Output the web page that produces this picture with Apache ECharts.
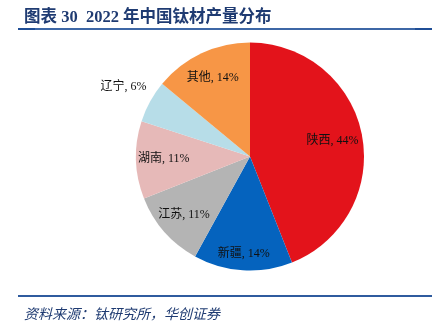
<!DOCTYPE html>
<html>
<head>
<meta charset="utf-8">
<script src="https://cdn.jsdelivr.net/npm/echarts@6/dist/echarts.min.js"></script>
<style>
html,body{margin:0;padding:0;background:#fff;}
#chart{width:444px;height:327px;}
</style>
</head>
<body>
<div id="chart"></div>
<script>
var categories = ['陕西', '新疆', '江苏', '湖南', '辽宁', '其他'];
var values = [44, 14, 11, 11, 6, 14];
var titleText = '图表 30  2022 年中国钛材产量分布';
var sourceText = '资料来源：钛研究所，华创证券';

var colors = ['#E3131B', '#0563BE', '#B4B4B4', '#E6B9B8', '#B7DDE8', '#F79646'];
var labelFactor = [0.71, 0.83, 0.745, 0.73, 1.24, 0.74];
var R = 114, CX = 250, CY = 156.5;

var total = values.reduce(function(a, b){ return a + b; }, 0);
var cum = 0;
var data = categories.map(function(name, i){
  var mid = (cum + values[i] / 2) / total * 2 * Math.PI;
  cum += values[i];
  var dx = Math.sin(mid), dy = -Math.cos(mid);
  var extra = (labelFactor[i] - 0.5) * R;
  return {
    name: name,
    value: values[i],
    itemStyle: { color: colors[i] },
    label: { offset: [dx * extra, dy * extra] }
  };
});

var chart = echarts.init(document.getElementById('chart'), null, {renderer: 'canvas'});
chart.setOption({
  backgroundColor: '#ffffff',
  animation: false,
  title: [{
    text: titleText,
    left: 19, top: 4,
    textStyle: { fontFamily: '"Liberation Serif", "Noto Sans CJK SC"', fontWeight: 'bold', fontSize: 16.5, color: '#1F3B72' }
  }, {
    text: sourceText,
    left: 19, top: 303,
    textStyle: { fontFamily: '"Liberation Serif", "Noto Sans CJK SC"', fontStyle: 'italic', fontWeight: 'normal', fontSize: 14, color: '#1F3B72' }
  }],
  graphic: [
    { type: 'rect', shape: { x: 18, y: 28, width: 414, height: 2 }, style: { fill: '#3D67A6' } },
    { type: 'rect', shape: { x: 18, y: 28, width: 17, height: 2 }, style: { fill: '#1F4E96' } },
    { type: 'rect', shape: { x: 415, y: 28, width: 17, height: 2 }, style: { fill: '#1F4E96' } },
    { type: 'rect', shape: { x: 18, y: 295, width: 414, height: 2 }, style: { fill: '#2F5B9E' } }
  ],
  series: [{
    type: 'pie',
    center: [CX, CY],
    radius: [0, R],
    startAngle: 90,
    clockwise: true,
    avoidLabelOverlap: false,
    label: {
      show: true,
      position: 'inside',
      formatter: '{b}, {c}%',
      fontFamily: '"Liberation Serif", "Noto Sans CJK SC"',
      fontSize: 12,
      color: '#111111'
    },
    labelLine: { show: false },
    emphasis: { disabled: true },
    data: data
  }]
});
</script>
</body>
</html>
